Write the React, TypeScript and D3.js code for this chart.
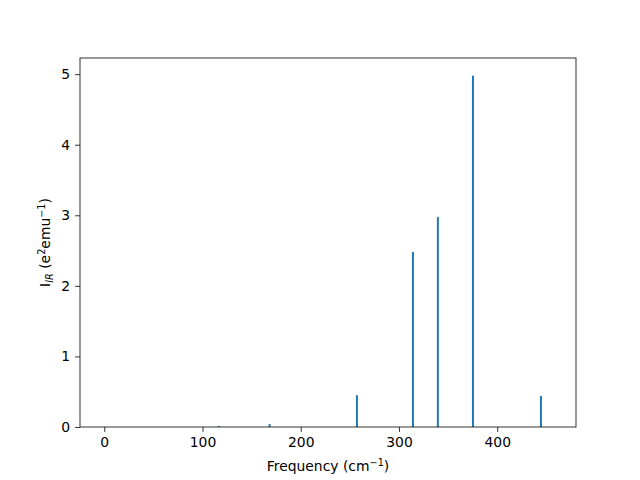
import { useEffect, useRef } from 'react';
import { select, scaleLinear, axisBottom, axisLeft } from 'd3';

const width = 640;
const height = 480;
const margin = { top: 58, bottom: 53, left: 80, right: 64 };

// IR peaks
const frequencies = [0, 116.7, 168.3, 257.2, 314.2, 339.6, 375.3, 444.5];
const intensities = [0, 0.014, 0.04, 0.45, 2.48, 2.975, 4.98, 0.44];
const xTicks = [0, 100, 200, 300, 400];
const yTicks = [0, 1, 2, 3, 4, 5];

const barWidth = 2;
const font = 'DejaVu Sans, sans-serif';

export default function App() {
  const ref = useRef<SVGSVGElement>(null);

  useEffect(() => {
    const svg = select(ref.current);
    svg.selectAll('*').remove();

    const x = scaleLinear()
      .domain([-24.7, 480.2])
      .range([margin.left, width - margin.right]);
    const y = scaleLinear()
      .domain([0, 4.98 * 1.05])
      .range([height - margin.bottom, margin.top]);

    const data = frequencies.map((f, i) => ({ f, v: intensities[i] }));

    svg
      .append('g')
      .selectAll('rect')
      .data(data)
      .join('rect')
      .attr('x', (d) => x(d.f - barWidth / 2))
      .attr('width', (d) => x(d.f + barWidth / 2) - x(d.f - barWidth / 2))
      .attr('y', (d) => y(d.v))
      .attr('height', (d) => y(0) - y(d.v))
      .attr('fill', '#1f77b4');

    const gx = svg
      .append('g')
      .attr('transform', `translate(0,${height - margin.bottom})`)
      .call(axisBottom(x).tickValues(xTicks).tickSize(4.9).tickPadding(4.9).tickFormat((d) => String(d)));
    const gy = svg
      .append('g')
      .attr('transform', `translate(${margin.left},0)`)
      .call(axisLeft(y).tickValues(yTicks).tickSize(4.9).tickPadding(4.9).tickFormat((d) => String(d)));

    [gx, gy].forEach((g) => {
      g.select('.domain').remove();
      g.selectAll('line').attr('stroke', '#000').attr('stroke-width', 0.8);
      g.selectAll('text').attr('font-family', font).attr('font-size', 13.9).attr('fill', '#000');
    });

    // frame
    svg
      .append('rect')
      .attr('x', margin.left)
      .attr('y', margin.top)
      .attr('width', width - margin.left - margin.right)
      .attr('height', height - margin.top - margin.bottom)
      .attr('fill', 'none')
      .attr('stroke', '#000')
      .attr('stroke-width', 0.8);

    const xl = svg
      .append('text')
      .attr('x', (margin.left + width - margin.right) / 2)
      .attr('y', 471)
      .attr('text-anchor', 'middle')
      .attr('font-family', font)
      .attr('font-size', 13.9);
    xl.append('tspan').text('Frequency (cm');
    xl.append('tspan').attr('dy', -5).attr('font-size', 9.7).text('\u22121');
    xl.append('tspan').attr('dy', 5).text(')');

    const yl = svg
      .append('text')
      .attr('transform', `translate(50,${(margin.top + height - margin.bottom) / 2}) rotate(-90)`)
      .attr('text-anchor', 'middle')
      .attr('font-family', font)
      .attr('font-size', 13.9);
    yl.append('tspan').text('I');
    yl.append('tspan').attr('dy', 3).attr('font-size', 9.7).attr('font-style', 'italic').text('IR');
    yl.append('tspan').attr('dy', -3).text(' (e');
    yl.append('tspan').attr('dy', -5).attr('font-size', 9.7).text('2');
    yl.append('tspan').attr('dy', 5).text('emu');
    yl.append('tspan').attr('dy', -5).attr('font-size', 9.7).text('\u22121');
    yl.append('tspan').attr('dy', 5).text(')');
  }, []);

  return (
    <svg
      ref={ref}
      width={width}
      height={height}
      style={{ position: 'absolute', left: 0, top: 0, overflow: 'visible' }}
    />
  );
}
